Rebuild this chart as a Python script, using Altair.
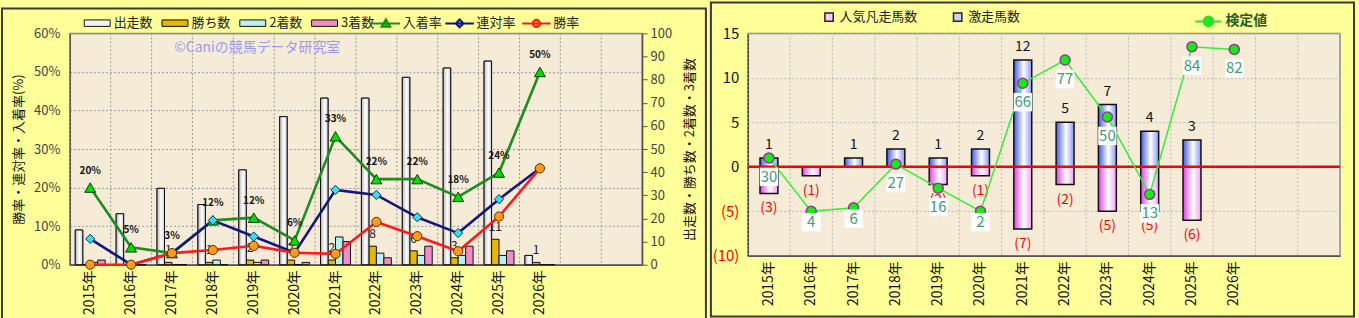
import altair as alt
import pandas as pd

FONT = "Noto Sans CJK JP"

# ---------------- data ----------------
years = ["2015年", "2016年", "2017年", "2018年", "2019年", "2020年",
         "2021年", "2022年", "2023年", "2024年", "2025年", "2026年"]
blank_slots = ["\u3000", "\u3000\u3000"]
cats = years + blank_slots

bar_series = ["出走数", "勝ち数", "2着数", "3着数"]
starts = [15, 22, 33, 26, 41, 64, 72, 72, 81, 85, 88, 4]
wins = [0, 0, 1, 1, 2, 2, 2, 8, 6, 3, 11, 1]
seconds = [1, 0, 0, 2, 1, 0, 12, 5, 4, 4, 4, 0]
thirds = [2, 0, 0, 0, 2, 1, 10, 3, 8, 8, 6, 0]

rate_series = ["入着率", "連対率", "勝率"]
place_rate = [20.0, 4.5, 3.0, 11.5, 12.2, 6.3, 33.3, 22.2, 22.2, 17.6, 23.9, 50.0]
rentai_rate = [6.7, 0.0, 3.0, 11.5, 7.3, 3.1, 19.4, 18.1, 12.3, 8.2, 17.0, 25.0]
win_rate = [0.0, 0.0, 3.0, 3.8, 4.9, 3.1, 2.8, 11.1, 7.4, 3.5, 12.5, 25.0]
place_labels = ["20%", "5%", "3%", "12%", "12%", "6%", "33%", "22%", "22%", "18%", "24%", "50%"]

right_series = ["人気凡走馬数", "激走馬数"]
bonsou = [3, 1, 0, 0, 2, 1, 7, 2, 5, 5, 6, 0]
gekisou = [1, 0, 1, 2, 1, 2, 12, 5, 7, 4, 3, 0]
test_series = ["検定値"]
test_pos = [1.0, -5.0, -4.6, 0.3, -2.4, -5.0, 9.4, 12.0, 5.6, -3.1, 13.5, 13.2]
test_values = [30, 4, 6, 27, 16, 2, 66, 77, 50, 13, 84, 82]

bars_df = pd.DataFrame([
    {"year": y, "series": s, "value": v}
    for s, vals in zip(bar_series, [starts, wins, seconds, thirds])
    for y, v in zip(years, vals)
])
rates_df = pd.DataFrame([
    {"year": y, "series": s, "value": v, "lab": lab}
    for s, vals in zip(rate_series, [place_rate, rentai_rate, win_rate])
    for y, v, lab in zip(years, vals, place_labels)
])
right_df = pd.DataFrame({"year": years, "gek": gekisou, "bon": bonsou,
                         "tpos": test_pos, "tval": test_values})
cats_df = pd.DataFrame({"year": cats})

# ---------------- shared pieces ----------------
x_scale = alt.Scale(domain=cats, paddingInner=0, paddingOuter=0)
x_axis = alt.Axis(title=None, labelAngle=270, labelFontSize=14, labelColor="#111111",
                  labelPadding=5, ticks=False, domainColor="#555555", domainWidth=1.5,
                  grid=False)


def X(**kw):
    return alt.X("year:N", scale=x_scale, axis=x_axis, **kw)


def grad(c0, c1, c2):
    return alt.LinearGradient(
        gradient="linear", x1=0, x2=1, y1=0, y2=0,
        stops=[alt.GradientStop(color=c0, offset=0),
               alt.GradientStop(color=c1, offset=0.55),
               alt.GradientStop(color=c2, offset=1)])


one_row = alt.Data(values=[{}])

# ---------------- left panel ----------------
cnt_scale = alt.Scale(domain=[0, 100], nice=False)
cnt_axis = alt.Axis(orient="right", values=list(range(0, 101, 10)),
                    title="出走数・勝ち数・2着数・3着数", titleAngle=270, titleBaseline="top",
                    titleFontSize=13, titleFontWeight="normal", titleColor="#111111",
                    titlePadding=12, labelFontSize=13, labelColor="#444444", labelPadding=3,
                    tickSize=5, tickColor="#555555", domainColor="#555555", domainWidth=1.5,
                    grid=False)
rate_scale = alt.Scale(domain=[0, 60], nice=False)
rate_axis = alt.Axis(orient="left", values=[0, 10, 20, 30, 40, 50, 60],
                     labelExpr="datum.value + '%'", title="勝率・連対率・入着率(%)",
                     titleFontSize=13, titleFontWeight="normal", titleColor="#111111",
                     titlePadding=8, labelFontSize=13, labelColor="#444444", labelPadding=10,
                     ticks=False, domainColor="#555555", domainWidth=1.5, grid=True,
                     gridColor="#9A9A9A", gridDash=[2, 2], gridWidth=1)

xoff = alt.XOffset("series:N", scale=alt.Scale(domain=bar_series, paddingInner=0,
                                               paddingOuter=0.733))
y_cnt = alt.Y("value:Q", scale=cnt_scale, axis=cnt_axis)
y_rate = alt.Y("value:Q", scale=rate_scale, axis=rate_axis)

bar_legend = alt.Legend(title=None, orient="none", legendX=14, legendY=-24,
                        direction="horizontal", columns=4, columnPadding=6,
                        symbolType="M-1,-0.25H1V0.25H-1Z", symbolSize=676,
                        symbolStrokeColor="#111111", symbolStrokeWidth=1,
                        labelFontSize=13, labelOffset=3, labelColor="#222222", padding=0)

grid_l = alt.Chart(cats_df).mark_rule(color="#9A9A9A", strokeDash=[2, 2], strokeWidth=1).encode(
    x=X(bandPosition=0))

bars = alt.Chart(bars_df).mark_bar(stroke="#111111", strokeWidth=1).encode(
    x=X(), xOffset=xoff, y=y_cnt,
    fill=alt.Fill("series:N", scale=alt.Scale(domain=bar_series,
                                              range=["#F2F2F2", "#E8B800", "#BDEFF2", "#F08CC8"]),
                  legend=bar_legend))

start_grad = alt.Chart(bars_df).transform_filter("datum.series == '出走数'").mark_bar(
    fill=grad("#B8B8B8", "#FFFFFF", "#CFCFCF"), stroke="#111111", strokeWidth=1).encode(
    x=X(), xOffset=xoff, y=y_cnt)

win_text = alt.Chart(bars_df).transform_filter(
    "datum.series == '勝ち数' && datum.value > 0").mark_text(
    dy=-12, fontSize=12, color="#222222").encode(
    x=X(), xOffset=xoff, y=y_cnt, text="value:Q")

frame_l = alt.Chart(one_row).mark_rect(fillOpacity=0, stroke="#3A3A3A", strokeWidth=2).encode(
    x=alt.value(-68), x2=alt.value(638), y=alt.value(-25), y2=alt.value(290))

watermark = alt.Chart(one_row).mark_text(
    text="©Caniの競馬データ研究室", fontSize=14, color="#9A9AF2").encode(
    x=alt.value(188), y=alt.value(15))

count_group = alt.layer(grid_l, bars, start_grad, win_text, frame_l, watermark)

line_colors = {"入着率": "#1E8C1E", "連対率": "#14147F", "勝率": "#FF1A1A"}
lines = [
    alt.Chart(rates_df).transform_filter(f"datum.series == '{s}'").mark_line(
        color=line_colors[s], strokeWidth=2.6).encode(x=X(), y=y_rate)
    for s in rate_series
]
pt_specs = {
    "入着率": dict(shape="triangle-up", fill="#00DD00", stroke="#0E3A0E", size=120),
    "連対率": dict(shape="diamond", fill="#33E0F0", stroke="#0A2A6A", size=85),
    "勝率": dict(shape="circle", fill="#FF9A1A", stroke="#5A3000", size=85),
}
points = [
    alt.Chart(rates_df).transform_filter(f"datum.series == '{s}'").mark_point(
        filled=True, opacity=1, strokeWidth=1, **pt_specs[s]).encode(x=X(), y=y_rate)
    for s in rate_series
]
place_text = alt.Chart(rates_df).transform_filter("datum.series == '入着率'").mark_text(
    dy=-17, fontSize=10, fontWeight="bold", color="#111111").encode(
    x=X(), y=y_rate, text="lab:N")

rate_paths = [
    "M-1.1,0H1.1M0,-0.32L0.34,0.26L-0.34,0.26Z",
    "M-1.1,0H1.1M0,-0.3L0.3,0L0,0.3L-0.3,0Z",
    "M-1.1,0H1.1M0.28,0A0.28,0.28 0 1,1 -0.28,0A0.28,0.28 0 1,1 0.28,0Z",
]
rate_fills = ["#00DD00", "#33E0F0", "#FF9A1A"]
rate_strokes = ["#1E8C1E", "#14147F", "#FF1A1A"]
rate_legx = [303, 377, 454]
rate_leg_layers = []
for s, pth, fc, sc, lx in zip(rate_series, rate_paths, rate_fills, rate_strokes, rate_legx):
    leg = alt.Legend(title=None, orient="none", legendX=lx, legendY=-24,
                     symbolType=pth, symbolSize=676, symbolStrokeWidth=2,
                     symbolFillColor=fc, labelFontSize=13, labelOffset=3,
                     labelColor="#222222", padding=0)
    rate_leg_layers.append(
        alt.Chart(rates_df).transform_filter("false").mark_point(
            shape=pth, filled=True, size=676, strokeWidth=2, opacity=1, fill=fc).encode(
            x=X(), y=y_rate,
            stroke=alt.Stroke("series:N", scale=alt.Scale(domain=[s], range=[sc]),
                              legend=leg)))

rate_group = alt.layer(*lines, *points, place_text, *rate_leg_layers).resolve_scale(
    stroke="independent")

left = alt.layer(count_group, rate_group).resolve_scale(
    y="independent", fill="independent").properties(width=574, height=232)

# ---------------- right panel ----------------
yr_scale = alt.Scale(domain=[-10, 15], nice=False)
yr_axis = alt.Axis(values=[-10, -5, 0, 5, 10, 15],
                   labelExpr="datum.value < 0 ? '(' + abs(datum.value) + ')' : datum.label",
                   labelColor={"condition": {"test": "datum.value < 0", "value": "#FF0000"},
                               "value": "#111111"},
                   labelFontSize=15, labelPadding=9, ticks=False, domainColor="#444444",
                   domainWidth=1.5, grid=True, gridColor="#BBBBBB", gridDash=[2, 2],
                   title=None)


def YR(field):
    return alt.Y(field, scale=yr_scale, axis=yr_axis)


grid_r = alt.Chart(cats_df).mark_rule(color="#BBBBBB", strokeDash=[2, 2], strokeWidth=1).encode(
    x=X(bandPosition=0))

gek_bars = alt.Chart(right_df).transform_filter("datum.gek > 0").mark_bar(
    fill=grad("#4558E0", "#FFFFFF", "#8A98F2"), stroke="#111111", strokeWidth=1.5,
    width=alt.RelativeBandSize(0.424)).encode(x=X(), y=YR("gek:Q"))

bon_bars = alt.Chart(right_df).transform_calculate(bneg="-datum.bon").transform_filter(
    "datum.bon > 0").mark_bar(
    fill=grad("#E040E0", "#FFFFFF", "#F2A0F2"), stroke="#111111", strokeWidth=1.5,
    width=alt.RelativeBandSize(0.424)).encode(x=X(), y=YR("bneg:Q"))

zero_rule = alt.Chart(alt.Data(values=[{"z": 0}])).mark_rule(
    color="#FF0000", strokeWidth=2.5).encode(y=YR("z:Q"))

gek_text = alt.Chart(right_df).transform_filter("datum.gek > 0").mark_text(
    baseline="bottom", dy=-6, fontSize=14, color="#111111").encode(
    x=X(), y=YR("gek:Q"), text="gek:Q")

bon_text = alt.Chart(right_df).transform_calculate(
    bneg="-datum.bon", blab="'(' + datum.bon + ')'").transform_filter(
    "datum.bon > 0").mark_text(
    baseline="top", dy=8, fontSize=14, color="#FF0000").encode(
    x=X(), y=YR("bneg:Q"), text="blab:N")

test_line = alt.Chart(right_df).mark_line(color="#33EE33", strokeWidth=1.5).encode(
    x=X(), y=YR("tpos:Q"))
test_pts = alt.Chart(right_df).mark_point(
    shape="circle", filled=True, fill="#11EE11", stroke="#993399", strokeWidth=1.5,
    size=100, opacity=1).encode(x=X(), y=YR("tpos:Q"))


def test_labels(cond, off):
    box = alt.Chart(right_df).transform_filter(cond).mark_square(
        size=340, color="#FFFFFF", opacity=1, yOffset=off).encode(x=X(), y=YR("tpos:Q"))
    txt = alt.Chart(right_df).transform_filter(cond).mark_text(
        dy=off, fontSize=15, color="#3C9A78").encode(x=X(), y=YR("tpos:Q"), text="tval:Q")
    return [box, txt]


lab_hi = test_labels("datum.tpos >= -4.5", 19)
lab_lo = test_labels("datum.tpos < -4.5", 11)

rbar_legend = alt.Legend(title=None, orient="none", legendX=75, legendY=-23,
                         direction="horizontal", columns=2, columnPadding=32,
                         symbolType="square", symbolSize=70, symbolStrokeColor="#222222",
                         symbolStrokeWidth=1.5, labelFontSize=13, labelOffset=4,
                         labelColor="#222222", padding=0)
rbar_leg_layer = alt.Chart(right_df).transform_filter("false").mark_square(
    size=70, stroke="#222222", strokeWidth=1.5, opacity=1).encode(
    x=X(), y=YR("gek:Q"),
    fill=alt.Fill("s:N", scale=alt.Scale(domain=right_series, range=["#FFC8FF", "#C8D2FF"]),
                  legend=rbar_legend))

test_path = "M-1,0H1M0.38,0A0.38,0.38 0 1,1 -0.38,0A0.38,0.38 0 1,1 0.38,0Z"
test_legend = alt.Legend(title=None, orient="none", legendX=448, legendY=-26,
                         symbolType=test_path, symbolSize=676, symbolStrokeWidth=2,
                         symbolFillColor="#11EE11",
                         labelFontSize=14, labelFontWeight="bold", labelOffset=3,
                         labelColor="#1E5E1E", padding=0)
test_leg_layer = alt.Chart(right_df).transform_filter("false").mark_point(
    shape=test_path, filled=True, size=676, strokeWidth=2, opacity=1, fill="#11EE11").encode(
    x=X(), y=YR("tpos:Q"),
    stroke=alt.Stroke("t:N", scale=alt.Scale(domain=test_series, range=["#33DD33"]),
                      legend=test_legend))

frame_r = alt.Chart(one_row).mark_rect(fillOpacity=0, stroke="#3A3A3A", strokeWidth=2).encode(
    x=alt.value(-37), x2=alt.value(608), y=alt.value(-31), y2=alt.value(284))
pad_r = alt.Chart(one_row).mark_rect(opacity=0).encode(
    x=alt.value(600), x2=alt.value(612), y=alt.value(270), y2=alt.value(286))

right = alt.layer(grid_r, gek_bars, bon_bars, zero_rule, gek_text, bon_text,
                  test_line, test_pts, *lab_hi, *lab_lo,
                  rbar_leg_layer, test_leg_layer, frame_r, pad_r).resolve_scale(
    fill="independent", stroke="independent").properties(
    width=594, height=223)

chart = alt.concat(left, right, columns=2, spacing=1, align="none", padding=0).configure(
    background="#FFFF99", font=FONT).configure_view(
    fill="#F5EBD7", stroke="#8A8A8A", strokeWidth=1.5).configure_axis(
    labelFont=FONT, titleFont=FONT).configure_legend(
    labelFont=FONT).configure_text(font=FONT)

chart.save("out.html", embed_options={"renderer": "svg", "actions": False})
